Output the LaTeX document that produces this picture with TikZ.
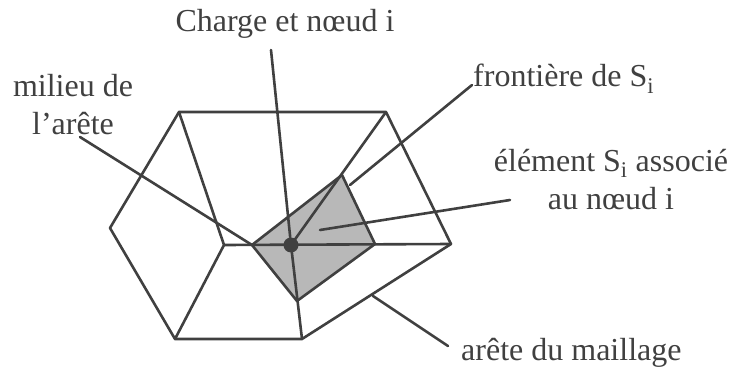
\documentclass[tikz,border=0pt]{standalone}
\usepackage{fontspec}
\setmainfont{Liberation Serif}
\definecolor{ink}{gray}{0.25}
\definecolor{txt}{gray}{0.25}
\definecolor{cellfill}{gray}{0.72}
\newcommand{\Si}{S\textsubscript{i}}
\tikzset{
  edge/.style={draw=ink,line width=2.6pt,line join=round,line cap=round},
  leader/.style={draw=ink,line width=2.6pt,line cap=round},
  lab/.style={font=\fontsize{32}{38}\selectfont,text=txt,inner sep=0pt,align=center}
}
\begin{document}
\begin{tikzpicture}[x=1pt,y=-1pt]
\useasboundingbox (0,0) rectangle (731,369);
\foreach \n/\x/\y in {a/179/112,b/386/112,c/451/244,d/302/339,e/175/339,f/110/228,g/224/245,h/252/245,k/342/175,l/375/244,m/297/301}
  \coordinate (\n) at (\x,\y);
\fill[cellfill] (h) -- (k) -- (l) -- (m) -- cycle;
\draw[edge] (a) -- (b) -- (c) -- (d) -- (e) -- (f) -- cycle;
\draw[edge] (a) -- (g) -- (e);
\draw[edge] (g) -- (c);
\draw[edge] (b) -- (291,245) -- (d);
\draw[edge] (h) -- (k) -- (l) -- (m) -- cycle;
\node[circle,fill=ink,minimum size=15pt,inner sep=0pt] (ci) at (291,245) {};
\node[lab,anchor=base] (charge) at (285,32) {Charge et nœud i};
\node[lab,anchor=base] (milieu) at (73,96) {milieu de};
\node[lab,anchor=base] (arete) at (73,134) {l’arête};
\node[lab,anchor=base west] (front) at (473,87) {frontière de \Si};
\node[lab,anchor=base] (elem) at (611,171) {élément \Si{} associé};
\node[lab,anchor=base] (noeud) at (611,209) {au nœud i};
\node[lab,anchor=base west] (maill) at (461,360) {arête du maillage};
\coordinate (c1) at (271,50);
\coordinate (c2) at (80,137);
\coordinate (c3) at (472,85);
\coordinate (c4) at (350,185);
\coordinate (c5) at (510,200);
\coordinate (c6) at (320,230);
\coordinate (c7) at (373,296);
\coordinate (c8) at (448,346);
\draw[leader] (c1) -- (ci);
\draw[leader] (c2) -- (h);
\draw[leader] (c3) -- (c4);
\draw[leader] (c5) -- (c6);
\draw[leader] (c7) -- (c8);
\end{tikzpicture}
\end{document}
